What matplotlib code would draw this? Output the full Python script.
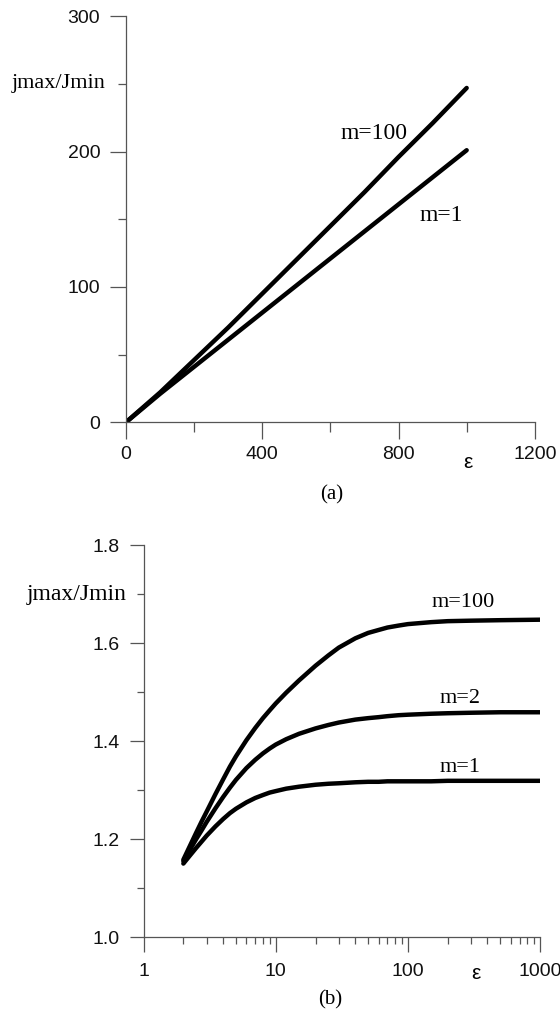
import matplotlib
matplotlib.use('Agg')
import matplotlib.pyplot as plt
from matplotlib.ticker import FixedLocator, FixedFormatter, NullFormatter

# panel (a): linear scale
eps_a = [0, 100, 200, 300, 400, 500, 600, 700, 800, 900, 1000]
ratio_a_m1 = [0, 21, 41, 61, 81, 101, 121, 141, 161, 181, 201]
ratio_a_m100 = [0, 22, 46, 70, 95, 120, 145, 170, 196, 221, 247]

# panel (b): log scale
eps_b = [2, 2.25, 2.5, 2.75, 3, 3.5, 4, 4.5, 5, 6, 7, 8, 9, 10, 12, 15, 20, 25,
         30, 40, 50, 60, 70, 85, 100, 150, 200, 300, 500, 1000]
ratio_b_m1 = [1.150, 1.167, 1.182, 1.195, 1.207, 1.226, 1.241, 1.253, 1.262, 1.275,
              1.284, 1.290, 1.295, 1.298, 1.303, 1.307, 1.311, 1.313, 1.314, 1.316,
              1.317, 1.317, 1.318, 1.318, 1.318, 1.318, 1.319, 1.319, 1.319, 1.319]
ratio_b_m2 = [1.155, 1.179, 1.200, 1.218, 1.235, 1.263, 1.286, 1.305, 1.321, 1.345,
              1.362, 1.375, 1.385, 1.393, 1.404, 1.415, 1.426, 1.433, 1.438, 1.444,
              1.447, 1.449, 1.451, 1.453, 1.454, 1.456, 1.457, 1.458, 1.459, 1.459]
ratio_b_m100 = [1.158, 1.187, 1.213, 1.236, 1.256, 1.292, 1.322, 1.348, 1.369, 1.402,
                1.427, 1.447, 1.463, 1.477, 1.499, 1.524, 1.554, 1.575, 1.591, 1.610,
                1.621, 1.627, 1.632, 1.636, 1.639, 1.643, 1.645, 1.646, 1.647, 1.648]

xt_a = [0, 400, 800, 1200]
yt_a = [0, 100, 200, 300]
xt_b = [1, 10, 100, 1000]
xt_b_labels = ['1', '10', '100', '1000']
yt_b = [1.0, 1.2, 1.4, 1.6, 1.8]

sans = 'Liberation Sans'
serif = 'Liberation Serif'
axcol = '#555555'

fig = plt.figure(figsize=(5.6, 10.15), dpi=100)

def style(ax):
    for s in ['top', 'right']:
        ax.spines[s].set_visible(False)
    for s in ['left', 'bottom']:
        ax.spines[s].set_color(axcol)
        ax.spines[s].set_linewidth(0.9)
    ax.tick_params(which='both', direction='out', color=axcol, width=0.9,
                   labelsize=14, labelfontfamily=sans, labelcolor='#111111')
    ax.set_facecolor('none')

# ---- (a)
ax1 = fig.add_axes([0.225, 0.584, 0.730, 0.400])
ax1.plot(eps_a, ratio_a_m100, color='black', lw=3.2, solid_capstyle='round')
ax1.plot(eps_a, ratio_a_m1, color='black', lw=3.2, solid_capstyle='round')
ax1.set_xlim(0, 1200)
ax1.set_ylim(0, 300)
ax1.xaxis.set_major_locator(FixedLocator(xt_a))
ax1.xaxis.set_minor_locator(FixedLocator([200, 600, 1000]))
ax1.yaxis.set_major_locator(FixedLocator(yt_a))
ax1.yaxis.set_minor_locator(FixedLocator([50, 150, 250]))
style(ax1)
ax1.tick_params(axis='x', which='major', length=12, pad=5)
ax1.tick_params(axis='x', which='minor', length=7)
ax1.tick_params(axis='y', which='major', length=11.5, pad=7)
ax1.tick_params(axis='y', which='minor', length=6)
ax1.text(727, 213, 'm=100', family=serif, fontsize=17, ha='center', va='center')
ax1.text(924, 153, 'm=1', family=serif, fontsize=17, ha='center', va='center')
ax1.text(-0.051, 250, 'jmax/Jmin', family=serif, fontsize=16, ha='right', va='center',
         transform=ax1.get_yaxis_transform())
ax1.text(1005, -30, 'ε', family=sans, fontsize=15, ha='center', va='center')
fig.text(332 / 560, 1 - 495 / 1015, '(a)', family=serif, fontsize=15, ha='center', va='center')

# ---- (b)
ax2 = fig.add_axes([0.2564, 0.0768, 0.708, 0.386])
ax2.plot(eps_b, ratio_b_m100, color='black', lw=3.2, solid_capstyle='round')
ax2.plot(eps_b, ratio_b_m2, color='black', lw=3.2, solid_capstyle='round')
ax2.plot(eps_b, ratio_b_m1, color='black', lw=3.2, solid_capstyle='round')
ax2.set_xscale('log')
ax2.set_xlim(1, 1000)
ax2.set_ylim(1.0, 1.8)
ax2.xaxis.set_major_locator(FixedLocator(xt_b))
ax2.xaxis.set_major_formatter(FixedFormatter(xt_b_labels))
minors = [d * k for d in [1, 10, 100] for k in range(2, 10)]
ax2.xaxis.set_minor_locator(FixedLocator(minors))
ax2.xaxis.set_minor_formatter(NullFormatter())
ax2.yaxis.set_major_locator(FixedLocator(yt_b))
ax2.yaxis.set_minor_locator(FixedLocator([1.1, 1.3, 1.5, 1.7]))
ax2.yaxis.set_major_formatter(FixedFormatter(['%.1f' % v for v in yt_b]))
style(ax2)
ax2.tick_params(axis='x', which='major', length=11, pad=8)
ax2.tick_params(axis='x', which='minor', length=5)
ax2.tick_params(axis='y', which='major', length=10, pad=7)
ax2.tick_params(axis='y', which='minor', length=5)
ax2.text(263, 1.684, 'm=100', family=serif, fontsize=16, ha='center', va='center')
ax2.text(249, 1.488, 'm=2', family=serif, fontsize=16, ha='center', va='center')
ax2.text(249, 1.347, 'm=1', family=serif, fontsize=16, ha='center', va='center')
ax2.text(-0.042, 1.7, 'jmax/Jmin', family=serif, fontsize=17, ha='right', va='center',
         transform=ax2.get_yaxis_transform())
ax2.text(330, 0.925, 'ε', family=sans, fontsize=15, ha='center', va='center')
fig.text(330 / 560, 1 - 1000 / 1015, '(b)', family=serif, fontsize=15, ha='center', va='center')

fig.savefig('out.png', dpi=100, facecolor='white')
